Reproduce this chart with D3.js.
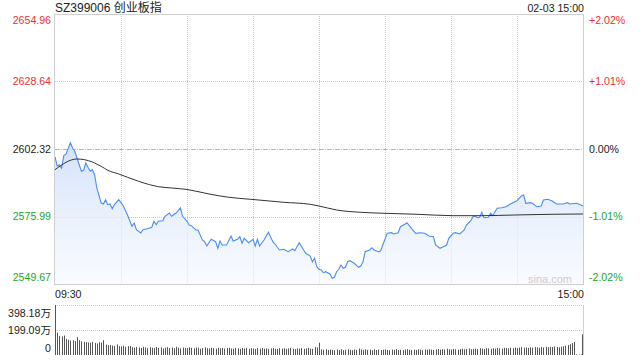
<!DOCTYPE html>
<html><head><meta charset="utf-8">
<script src="https://cdn.jsdelivr.net/npm/d3@7/dist/d3.min.js"></script>
<style>body{margin:0;background:#fff}svg{display:block}text{font-family:"Liberation Sans",Arial,sans-serif}</style>
</head><body><svg id="c" width="640" height="360"></svg>
<script>
const title = "SZ399006 创业板指";
const stamp = "02-03 15:00";
const timeLabels = ["09:30", "15:00"];
const priceTicks = [2654.96, 2628.64, 2602.32, 2575.99, 2549.67];
const pctTicks = ["+2.02%", "+1.01%", "0.00%", "-1.01%", "-2.02%"];
const tickKinds = ["up", "up", "flat", "down", "down"];
const prevClose = 2602.32;
const volTicks = [398.18, 199.09, 0];
const volTickLabels = ["398.18万", "199.09万", "0"];

// minute index (0 = 09:30, 120 = 11:30/13:00, 240 = 15:00) and price
const priceMin = [0,1,2,3,4,5,7,8,9,10,12,13,14,15,16,17,18,19,21,22,23,24,25,26,27,29,31,33,35,36,37,39,40,42,44,45,46,47,49,50,52,53,55,57,58,60,
 61,62,64,65,67,68,69,71,73,74,75,76,78,80,81,83,84,85,86,88,90,91,92,93,95,97,99,100,102,104,106,108,109,111,113,114,116,117,118,119,120,
 121,122,123,125,126,127,128,129,130,131,132,133,134,136,138,139,140,141,143,144,145,147,148,149,151,153,154,156,157,159,160,162,164,166,168,170,172,173,175,176,178,179,
 181,182,184,186,187,189,190,191,192,193,194,195,197,198,199,200,201,203,205,207,209,210,212,213,214,216,217,219,221,222,224,226,228,231,233,234,237,238,240];
const priceVal = [2599.20,2595.69,2596.20,2594.91,2599.71,2600.37,2604.78,2602.71,2601.42,2598.81,2593.62,2594.01,2596.86,2595.18,2593.62,2594.25,2592.30,2587.11,2581.26,2580.87,2582.55,2580.60,2580.87,2579.04,2580.60,2582.55,2580.21,2576.46,2572.17,2573.46,2570.85,2569.56,2570.85,2571.24,2571.78,2574.12,2572.80,2574.12,2574.36,2576.07,2577.36,2576.07,2577.36,2579.31,2576.07,2574.12,
 2572.68,2572.41,2570.73,2570.73,2566.83,2566.17,2564.49,2567.10,2566.17,2563.59,2566.44,2564.88,2564.88,2568.39,2566.44,2567.10,2568.12,2565.54,2567.49,2565.78,2567.10,2564.49,2567.10,2564.49,2566.83,2569.83,2566.17,2565.27,2562.93,2563.20,2562.27,2563.32,2562.66,2565.78,2562.93,2561.64,2560.59,2558.37,2559.69,2556.42,2555.40,
 2555.13,2554.08,2554.47,2553.57,2551.89,2552.28,2554.47,2555.40,2557.08,2555.79,2556.18,2558.37,2558.76,2557.74,2556.18,2556.69,2558.37,2562.27,2562.93,2563.83,2562.93,2562.27,2562.54,2564.88,2569.44,2569.68,2569.17,2569.68,2572.02,2572.95,2573.58,2571.39,2569.44,2569.68,2569.44,2568.39,2568.12,2564.88,2563.59,2563.98,2564.88,2567.49,
 2569.44,2569.68,2569.17,2570.73,2572.68,2574.36,2575.92,2576.19,2575.53,2575.68,2577.63,2575.53,2575.68,2577.24,2576.31,2577.87,2579.19,2579.43,2579.82,2580.87,2581.77,2582.16,2583.99,2584.38,2581.14,2581.38,2581.14,2579.82,2580.09,2582.43,2582.70,2582.04,2580.87,2580.87,2581.38,2580.87,2581.14,2580.87,2580.09];

const avgMin = [0,10,17,18,21,24,29,33,38,43,47,53,60,70,79,89,104,116,120,128,139,150,165,181,194,209,225,240];
const avgVal = [2594.25,2598.42,2597.25,2596.86,2595.57,2594.01,2592.57,2591.28,2589.72,2588.40,2587.62,2587.11,2586.53,2584.77,2583.48,2582.70,2581.53,2580.75,2580.09,2578.53,2577.63,2577.24,2576.85,2576.31,2576.31,2576.58,2576.85,2576.97];

// volume per minute, 万 (241 bars)
const volumes = [398.18,178,152,148,155,128,122,115,118,112,142,118,110,105,102,100,98,104,96,92,101,99,118,82,78,80,75,72,84,70,68,74,66,70,72,
 62,58,64,60,56,66,60,54,62,58,55,64,57,60,52,58,63,56,60,54,66,58,52,60,56,55,62,57,53,60,58,50,56,61,54,52,58,55,50,57,53,56,51,55,58,
 52,50,56,53,49,55,52,57,50,54,52,48,55,51,56,50,53,49,52,55,50,48,54,51,53,49,52,56,50,47,53,50,55,49,52,57,51,48,62,60,
 98,45,42,46,40,44,41,38,43,40,45,39,42,46,41,38,44,40,52,43,39,45,41,42,38,46,40,44,39,42,45,40,38,43,41,47,39,42,40,44,46,41,39,43,40,45,42,
 38,44,41,46,43,40,45,48,42,46,44,50,45,43,48,46,42,47,50,45,48,52,46,49,51,47,53,50,48,55,52,49,54,51,56,53,50,57,55,52,58,54,60,56,59,62,58,
 60,57,62,59,63,61,58,64,60,66,62,65,63,68,
 64,61,66,70,74,80,86,95,104,5,4,4,165];

const svg = d3.select("#c");
const L = 55, R = 583, T = 14, B = 284;
const x = d3.scaleLinear().domain([0, 240]).range([L, R]);
const y = d3.scaleLinear().domain([priceTicks[4], priceTicks[0]]).range([B, T]);
const vy = d3.scaleLinear().domain([0, volTicks[0]]).range([355, 305]);
const colorOf = {up: "#ee2f2f", flat: "#222", down: "#1fa51f"};
const grid = "#c8c8c8";

// gradient
const defs = svg.append("defs");
const g = defs.append("linearGradient").attr("id", "fillg").attr("gradientUnits", "userSpaceOnUse")
  .attr("x1", 0).attr("x2", 0).attr("y1", y(d3.max(priceVal))).attr("y2", B);
g.append("stop").attr("offset", 0).attr("stop-color", "#cfdff9").attr("stop-opacity", 0.9);
g.append("stop").attr("offset", 1).attr("stop-color", "#f4f8ff").attr("stop-opacity", 0.6);

// grid lines
const vMins = d3.range(30, 240, 30);
svg.append("g").selectAll("line").data(vMins).join("line")
  .attr("x1", d => Math.round(x(d)) + 0.5).attr("x2", d => Math.round(x(d)) + 0.5)
  .attr("y1", T).attr("y2", B).attr("stroke", grid).attr("stroke-dasharray", "1,1");
svg.append("g").selectAll("line").data(priceTicks.slice(1, 4)).join("line")
  .attr("x1", L).attr("x2", R).attr("y1", d => Math.round(y(d)) + 0.5).attr("y2", d => Math.round(y(d)) + 0.5)
  .attr("stroke", grid).attr("stroke-dasharray", "1,1");
svg.append("line").attr("x1", L).attr("x2", R)
  .attr("y1", Math.round(y(prevClose)) + 0.5).attr("y2", Math.round(y(prevClose)) + 0.5)
  .attr("stroke", "#f2a35e").attr("stroke-dasharray", "4,4");

// area + lines
const pts = priceMin.map((m, i) => [m, priceVal[i]]);
svg.append("path").datum(pts)
  .attr("d", d3.area().x(d => x(d[0])).y0(B).y1(d => y(d[1])))
  .attr("fill", "url(#fillg)");
svg.append("path").datum(pts)
  .attr("d", d3.line().x(d => x(d[0])).y(d => y(d[1])))
  .attr("fill", "none").attr("stroke", "#4a8cf6").attr("stroke-width", 1.1);
svg.append("path").datum(avgMin.map((m, i) => [m, avgVal[i]]))
  .attr("d", d3.line().curve(d3.curveMonotoneX).x(d => x(d[0])).y(d => y(d[1])))
  .attr("fill", "none").attr("stroke", "#333").attr("stroke-width", 1);

// frame
svg.append("rect").attr("x", L - 0.5).attr("y", T + 0.5).attr("width", R - L + 1).attr("height", B - T)
  .attr("fill", "none").attr("stroke", "#cfcfcf");

// labels
svg.append("text").attr("x", L).attr("y", 12).attr("font-size", 12).attr("fill", "#222")
  .style("font-family", "'Liberation Sans','Noto Sans CJK SC',sans-serif").text(title);
svg.append("text").attr("x", R + 1).attr("y", 11.5).attr("font-size", 10.6).attr("fill", "#222")
  .attr("text-anchor", "end").text(stamp);
const labY = (d, i) => y(d) + 3.8 + (i === 0 ? 6.5 : i === 4 ? -6.8 : 0);
svg.append("g").selectAll("text").data(priceTicks).join("text")
  .attr("x", 51).attr("y", labY).attr("text-anchor", "end").attr("font-size", 10.6)
  .attr("fill", (d, i) => colorOf[tickKinds[i]]).text(d => d.toFixed(2));
svg.append("g").selectAll("text").data(priceTicks).join("text")
  .attr("x", 589).attr("y", labY).attr("font-size", 10.6)
  .attr("fill", (d, i) => colorOf[tickKinds[i]]).text((d, i) => pctTicks[i]);
svg.append("text").attr("x", 572).attr("y", 282.5).attr("text-anchor", "end").attr("font-size", 11)
  .attr("fill", "#cccccc").text("sina.com");
svg.append("text").attr("x", L).attr("y", 297.5).attr("font-size", 10.6).attr("fill", "#222").text(timeLabels[0]);
svg.append("text").attr("x", R + 1).attr("y", 297.5).attr("font-size", 10.6).attr("fill", "#222")
  .attr("text-anchor", "end").text(timeLabels[1]);

// volume pane
svg.append("g").selectAll("line").data(volTicks.slice(0, 2)).join("line")
  .attr("x1", L).attr("x2", R).attr("y1", d => Math.round(vy(d)) + 0.5).attr("y2", d => Math.round(vy(d)) + 0.5)
  .attr("stroke", grid).attr("stroke-dasharray", "1,1");
svg.append("line").attr("x1", R + 0.5).attr("x2", R + 0.5).attr("y1", vy(volTicks[0])).attr("y2", vy(0))
  .attr("stroke", "#cfcfcf");
svg.append("g").selectAll("rect").data(volumes).join("rect")
  .attr("x", (d, i) => Math.round(x(i)) + (i === 240 ? -1 : 0)).attr("width", 1)
  .attr("y", d => vy(d)).attr("height", d => vy(0) - vy(d)).attr("fill", "#555");
svg.append("g").selectAll("text").data(volTicks).join("text")
  .attr("x", 51).attr("y", (d, i) => [316.5, 334.3, 352][i]).attr("text-anchor", "end")
  .attr("font-size", 10.6).attr("fill", "#222")
  .style("font-family", "'Liberation Sans','Noto Sans CJK SC',sans-serif")
  .text((d, i) => volTickLabels[i]);
</script></body></html>
